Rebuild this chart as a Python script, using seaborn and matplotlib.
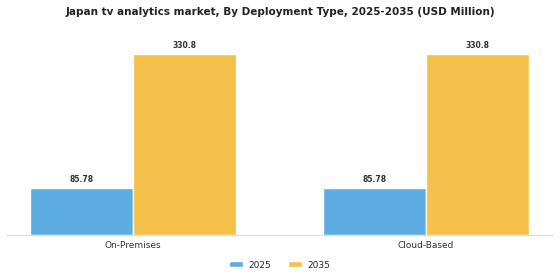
import matplotlib
matplotlib.use('Agg')
import matplotlib.pyplot as plt
import pandas as pd
import seaborn as sns

# Values
categories = ['On-Premises', 'Cloud-Based']
years = ['2025', '2035']
values_2025 = [85.78, 85.78]
values_2035 = [330.8, 330.8]
colors = ['#5DADE2', '#F5C04A']

df = pd.DataFrame({
    'Deployment': categories * 2,
    'Year': [years[0]] * len(categories) + [years[1]] * len(categories),
    'Value': values_2025 + values_2035,
})

sns.set_style('white')
fig = plt.figure(figsize=(5.6, 2.8), dpi=100)
ax = fig.add_axes([7 / 560, 45 / 280, 545 / 560, 200 / 280])

sns.barplot(data=df, x='Deployment', y='Value', hue='Year', palette=colors,
            width=0.7, saturation=1, ax=ax, legend=True)

for cont in ax.containers:
    ax.bar_label(cont, labels=[f'{v:g}' for v in cont.datavalues],
                 padding=3, fontsize=5.5, fontweight='bold', color='#333333')

ax.set_xlim(-0.43, 1.43)
ax.set_ylim(0, 365)
ax.set_xlabel('')
ax.set_ylabel('')
ax.set_yticks([])
ax.tick_params(axis='x', length=0, labelsize=6.5, colors='#333333', pad=4)
for s in ['top', 'right', 'left']:
    ax.spines[s].set_visible(False)
ax.spines['bottom'].set_color('#dddddd')
ax.spines['bottom'].set_linewidth(0.8)

ax.legend(loc='center', bbox_to_anchor=(0.5, -0.15), ncol=2, frameon=False,
          fontsize=6.5, handlelength=1.6, handleheight=0.6, columnspacing=1.8,
          handletextpad=0.6)

fig.suptitle('Japan tv analytics market, By Deployment Type, 2025-2035 (USD Million)',
             fontsize=7.5, fontweight='bold', color='#222222', y=0.975)

fig.savefig('out.png', dpi=100)
